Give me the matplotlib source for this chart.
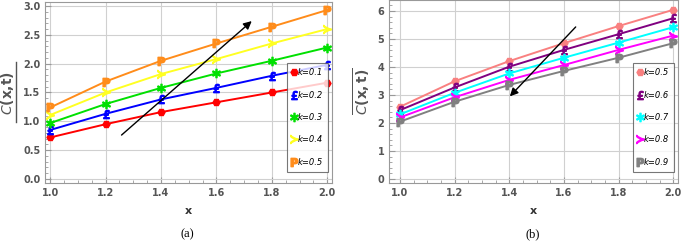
import matplotlib
matplotlib.use("Agg")
import matplotlib.pyplot as plt
from matplotlib.lines import Line2D
from matplotlib.ticker import MultipleLocator

x = [1.0, 1.2, 1.4, 1.6, 1.8, 2.0]

# panel (a)
k_a = ["k=0.1", "k=0.2", "k=0.3", "k=0.4", "k=0.5"]
c_a = [
    [0.72, 0.95, 1.16, 1.33, 1.50, 1.67],
    [0.85, 1.13, 1.38, 1.58, 1.79, 1.98],
    [0.97, 1.30, 1.58, 1.83, 2.05, 2.28],
    [1.11, 1.50, 1.82, 2.08, 2.35, 2.60],
    [1.24, 1.69, 2.05, 2.35, 2.64, 2.93],
]
# panel (b)
k_b = ["k=0.5", "k=0.6", "k=0.7", "k=0.8", "k=0.9"]
c_b = [
    [2.58, 3.49, 4.21, 4.85, 5.46, 6.04],
    [2.46, 3.27, 4.01, 4.61, 5.17, 5.74],
    [2.31, 3.08, 3.77, 4.33, 4.87, 5.42],
    [2.20, 2.92, 3.54, 4.07, 4.61, 5.12],
    [2.05, 2.76, 3.36, 3.86, 4.33, 4.85],
]

colors_a = ["#ff0000", "#0000ff", "#00e000", "#ffff22", "#ff8c1a"]
colors_b = ["#f98080", "#800080", "#00ffff", "#ff00ff", "#808080"]
markers = ["H", "$£$", r"$\ast$", r"$\succ$", r"$\mathbf{P}$"]
msizes = [5, 6, 6, 6, 6]

tick_col = "#555555"

fig = plt.figure(figsize=(6.85, 2.45), dpi=100)
ax_a = fig.add_axes([0.066, 0.253, 0.419, 0.739])
ax_b = fig.add_axes([0.568, 0.253, 0.422, 0.747])


def style(ax, xlim, ylim, ystep):
    ax.set_xlim(*xlim)
    ax.set_ylim(*ylim)
    ax.xaxis.set_major_locator(MultipleLocator(0.2))
    ax.xaxis.set_minor_locator(MultipleLocator(0.05))
    ax.yaxis.set_major_locator(MultipleLocator(ystep))
    ax.yaxis.set_minor_locator(MultipleLocator(ystep / 5))
    ax.grid(True, which="major", color="#d0d0d0", linewidth=0.8)
    ax.set_axisbelow(True)
    ax.tick_params(which="both", direction="in", colors="#999999",
                   labelcolor=tick_col, labelsize=7)
    ax.tick_params(which="major", length=4)
    ax.tick_params(which="minor", length=2)
    for lab in ax.get_xticklabels() + ax.get_yticklabels():
        lab.set_fontweight("bold")
    for sp in ax.spines.values():
        sp.set_color("#999999")
    ax.set_xlabel("x", fontsize=8, fontweight="bold", color="#333333", labelpad=6)


def draw(ax, labels, data, colors):
    for lab, ys, col, mk, ms in zip(labels, data, colors, markers, msizes):
        ax.plot(x, ys, color=col, linewidth=1.4, marker=mk, markersize=ms,
                label=lab)
    leg = ax.legend(loc="lower right", handlelength=0.6,
                    handletextpad=0.1, labelspacing=1.6, frameon=True,
                    fancybox=False, borderpad=0.6, bbox_to_anchor=(1.0, 0.04),
                    prop={"style": "italic", "size": 6})
    leg.get_frame().set_edgecolor("#555555")
    leg.get_frame().set_linewidth(0.8)
    for h in leg.get_lines():
        h.set_linestyle("")


draw(ax_a, k_a, c_a, colors_a)
style(ax_a, (0.982, 2.018), (-0.07, 3.07), 0.5)
ax_a.set_yticks([0.0, 0.5, 1.0, 1.5, 2.0, 2.5, 3.0])
ax_a.set_yticklabels(["0.0", "0.5", "1.0", "1.5", "2.0", "2.5", "3.0"],
                     fontweight="bold")
ax_a.annotate("", xy=(1.735, 2.77), xytext=(1.25, 0.73),
              arrowprops=dict(arrowstyle="-|>", color="black", lw=1.0,
                              mutation_scale=12))

draw(ax_b, k_b, c_b, colors_b)
style(ax_b, (0.96, 2.018), (-0.14, 6.39), 1)
ax_b.annotate("", xy=(1.395, 2.88), xytext=(1.65, 5.5),
              arrowprops=dict(arrowstyle="-|>", color="black", lw=1.0,
                              mutation_scale=12))

# y labels: underlined on (a), overlined on (b)
fig.text(-0.002, 0.62, r"$C$(x,t)", rotation=90, fontsize=10,
         color="#555555", fontweight="bold", va="center", ha="left")
fig.add_artist(Line2D([0.024, 0.024], [0.50, 0.745], color="#555555",
                      linewidth=1.0, transform=fig.transFigure))
ax_b.set_ylabel(r"$\overline{C\mathbf{(x,t)}}$", fontsize=10, color="#555555",
                labelpad=3)

fig.text(0.273, 0.03, "(a)", fontsize=9, family="Liberation Serif", ha="center")
fig.text(0.777, 0.03, "(b)", fontsize=9, family="Liberation Serif", ha="center")

fig.savefig("out.png", dpi=100)
